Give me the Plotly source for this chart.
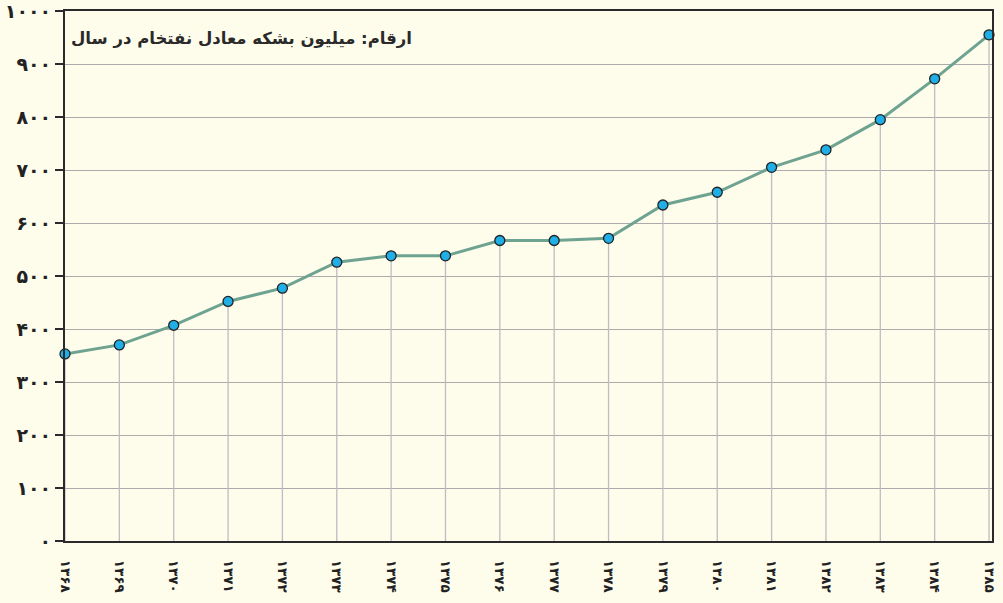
import plotly.graph_objects as go

years = ["۱۳۶۸", "۱۳۶۹", "۱۳۷۰", "۱۳۷۱", "۱۳۷۲", "۱۳۷۳", "۱۳۷۴", "۱۳۷۵", "۱۳۷۶",
         "۱۳۷۷", "۱۳۷۸", "۱۳۷۹", "۱۳۸۰", "۱۳۸۱", "۱۳۸۲", "۱۳۸۳", "۱۳۸۴", "۱۳۸۵"]
values = [353, 370, 407, 452, 477, 526, 538, 538, 567,
          567, 571, 634, 658, 705, 738, 795, 872, 955]
y_ticks = [0, 100, 200, 300, 400, 500, 600, 700, 800, 900, 1000]
y_tick_labels = ["۰", "۱۰۰", "۲۰۰", "۳۰۰", "۴۰۰", "۵۰۰", "۶۰۰", "۷۰۰", "۸۰۰", "۹۰۰", "۱۰۰۰"]
title_text = "ارقام: میلیون بشکه معادل نفتخام در سال"

xs = list(range(len(years)))

drop_x, drop_y = [], []
for x, v in zip(xs, values):
    drop_x += [x, x, None]
    drop_y += [0, v, None]

fig = go.Figure()
fig.add_trace(go.Scatter(x=drop_x, y=drop_y, mode="lines",
                         line=dict(color="#BDBDC3", width=1.3),
                         hoverinfo="skip", showlegend=False))
fig.add_trace(go.Scatter(x=xs, y=values, mode="lines+markers",
                         line=dict(color="#6FA391", width=3),
                         marker=dict(size=10, color="#1FAEE5",
                                     line=dict(color="#222222", width=1.3)),
                         showlegend=False, cliponaxis=False))

font_family = "DejaVu Sans"
fig.update_layout(
    width=1003, height=603,
    margin=dict(l=65, r=11, t=11, b=62),
    paper_bgcolor="#FEFCEB", plot_bgcolor="#FEFCEB",
    font=dict(family=font_family, color="#222222"),
    showlegend=False,
)
fig.update_xaxes(
    range=[0, 17.055], tickmode="array", tickvals=xs, ticktext=years,
    tickangle=90, tickfont=dict(size=13.5, family=font_family, color="#222222", weight="bold"),
    showgrid=False, zeroline=False, showline=True, linecolor="#2A2A2A",
    linewidth=2, mirror=True, ticks="", ticklabelstandoff=14, automargin=False,
    ticklabeloverflow="allow",
)
fig.update_yaxes(
    range=[0, 1000], tickmode="array", tickvals=y_ticks, ticktext=y_tick_labels,
    tickfont=dict(size=19, family=font_family, color="#222222", weight="bold"),
    showgrid=True, gridcolor="#ABABAB", gridwidth=1.2, zeroline=False,
    showline=True, linecolor="#2A2A2A", linewidth=2, mirror=True,
    ticks="outside", ticklen=8, tickcolor="#2A2A2A", tickwidth=1.5,
    ticklabelstandoff=0, automargin=False, ticklabeloverflow="allow",
)
fig.add_annotation(
    text="<b>" + title_text + "</b>", xref="paper", yref="paper",
    x=0.004, y=0.97, xanchor="left", yanchor="top", showarrow=False,
    font=dict(size=16.5, family=font_family, color="#2A2A2A"),
)
fig.write_html("out.html", config={"displayModeBar": False},
               post_script="document.body.style.margin='0';document.body.style.background='#FEFCEB';")
